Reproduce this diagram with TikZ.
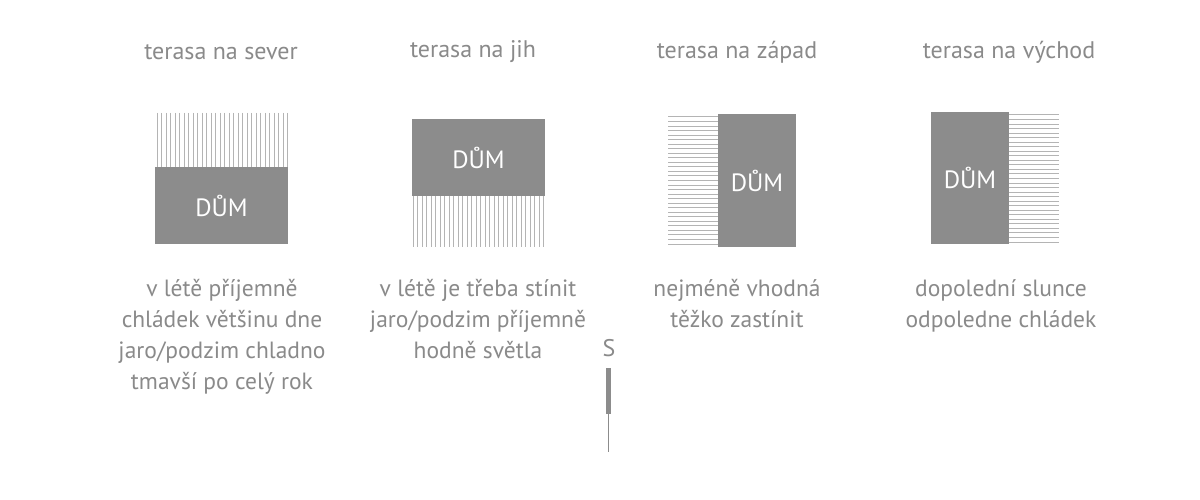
\documentclass[tikz,border=0pt]{standalone}
\usepackage{fontspec}
\setmainfont{PT Sans}
\definecolor{txtgray}{HTML}{8A8A8A}
\definecolor{boxgray}{HTML}{8C8C8C}
\definecolor{hatchgray}{HTML}{B4B4B4}
\begin{document}
\begin{tikzpicture}[x=1pt,y=-1pt,
  title/.style={text=txtgray,font=\fontsize{24}{28}\selectfont,inner sep=0pt},
  desc/.style={text=txtgray,font=\fontsize{23.5}{31}\selectfont,align=center,inner sep=0pt,anchor=north},
  house/.style={fill=boxgray,draw=none,text=white,font=\fontsize{25}{28}\selectfont,inner sep=0pt},
  hatch/.style={draw=hatchgray,line width=1pt}]
\useasboundingbox[fill=white] (0,0) rectangle (1200,500);
% titles
\node[title] (t1) at (221,52) {terasa na sever};
\node[title] (t2) at (473,52) {terasa na jih};
\node[title] (t3) at (737,52) {terasa na západ};
\node[title] (t4) at (1009,52) {terasa na východ};
% hatching
\foreach \i in {0,...,29} \draw[hatch] (157+4.5*\i,113) -- (157+4.5*\i,167);
\foreach \i in {0,...,29} \draw[hatch] (413+4.5*\i,196) -- (413+4.5*\i,247);
\foreach \i in {0,...,28} \draw[hatch] (668,117+4.536*\i) -- (718,117+4.536*\i);
\foreach \i in {0,...,28} \draw[hatch] (1009,115+4.536*\i) -- (1059,115+4.536*\i);
% houses
\node[house,minimum width=133pt,minimum height=77pt] (h1) at (221.5,205.5) {DŮM};
\node[house,minimum width=133pt,minimum height=77pt] (h2) at (478.5,157.5) {DŮM};
\node[house,minimum width=78pt,minimum height=133pt] (h3) at (757,180.5) {DŮM};
\node[house,minimum width=78pt,minimum height=132pt] (h4) at (970,178) {DŮM};
% descriptions
\node[desc] (d1) at (222,279) {v létě příjemně\\chládek většinu dne\\jaro/podzim chladno\\tmavší po celý rok};
\node[desc] (d2) at (478,279) {v létě je třeba stínit\\jaro/podzim příjemně\\hodně světla};
\node[desc] (d3) at (737,279) {nejméně vhodná\\těžko zastínit};
\node[desc] (d4) at (1001,279) {dopolední slunce\\odpoledne chládek};
% south marker
\node[title] (s) at (609,348) {S};
\node[fill=boxgray,draw=none,minimum width=5pt,minimum height=46pt,inner sep=0pt] (sbar) at (608.5,391) {};
\coordinate (send) at (608.5,452);
\draw[boxgray,line width=1pt] (sbar.south) -- (send);
\end{tikzpicture}
\end{document}
